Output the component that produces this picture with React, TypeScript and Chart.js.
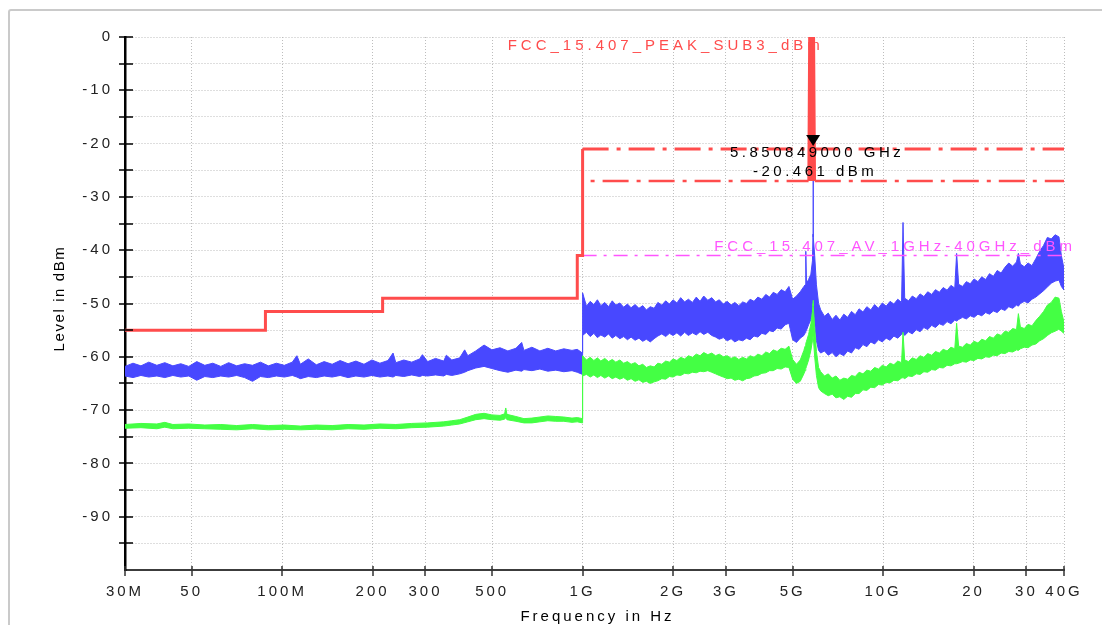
import React, { useEffect, useRef } from 'react';
import { Chart, registerables } from 'chart.js';

Chart.register(...registerables);

// ---------- axis ticks ----------
const X_TICKS_MHZ = [30, 50, 100, 200, 300, 500, 1000, 2000, 3000, 5000, 10000, 20000, 30000, 40000];
const X_TICK_LABELS = ['30M', '50', '100M', '200', '300', '500', '1G', '2G', '3G', '5G', '10G', '20', '30', '40G'];
const X_TITLE = 'Frequency in Hz';
const Y_TITLE = 'Level in dBm';

// ---------- limit lines ----------
const STEP_LIMIT_FREQ = [30, 88, 88, 216, 216, 960, 960, 1000, 1000, 40000];
const STEP_LIMIT_DBM = [-55, -55, -51.5, -51.5, -49, -49, -41, -41, -21, -21];

const SUB3_FREQ = [1000, 5650, 5700, 5720, 5725, 5850, 5855, 5875, 5925, 40000];
const SUB3_DBM = [-27, -27, 10, 15.6, 27, 27, 15.6, 10, -27, -27];

const AV_FREQ = [1000, 40000];
const AV_DBM = [-41, -41];

// ---------- frequencies above 1 GHz (MHz), shared by both traces ----------
const FREQ_HIGH = [
  1000, 1030, 1060, 1090, 1120, 1150, 1185, 1220, 1255, 1290,
  1330, 1370, 1410, 1450, 1495, 1540, 1585, 1630, 1680, 1730,
  1780, 1835, 1890, 1945, 2000, 2060, 2120, 2185, 2250, 2320,
  2390, 2460, 2530, 2610, 2690, 2770, 2850, 2940, 3030, 3120,
  3210, 3310, 3410, 3510, 3610, 3720, 3830, 3950, 4070, 4190,
  4310, 4440, 4580, 4720, 4860, 5000, 5150, 5300, 5450, 5500,
  5530, 5560, 5650, 5750, 5820, 5845, 5850.849, 5860, 5920, 6000,
  6100, 6200, 6380, 6570, 6770, 6970, 7180, 7400, 7620, 7850,
  8080, 8320, 8570, 8830, 9100, 9370, 9650, 9940, 10240, 10550,
  10860, 11190, 11520, 11650, 11800, 12150, 12510, 12890, 13280, 13670,
  14080, 14510, 14940, 15390, 15850, 16330, 16820, 17320, 17570, 17840,
  18380, 18930, 19500, 20080, 20680, 21300, 21940, 22600, 23280, 23980,
  24700, 25440, 26200, 26990, 27800, 28200, 28640, 29500, 30380, 31290,
  32230, 33200, 34200, 35220, 36280, 37370, 38490, 39200, 40000,
];

// ---------- peak trace (blue) ----------
const PEAK_FREQ_LOW = [
  30, 31.9, 33.9, 36, 38.3, 40.7, 43.3, 46, 48.9, 52,
  55.3, 58.8, 62.5, 66.4, 70.6, 75, 79.7, 84.7, 90, 95.7,
  101.7, 108.1, 112, 115, 122.2, 130, 138, 146.7, 156, 165.8,
  176, 187.3, 199, 211.6, 225, 234, 239, 254, 270, 287,
  293, 305, 324, 345, 352, 367, 390, 405, 415, 441,
  470, 499, 531, 564, 600, 627, 638, 678, 721, 766,
  814, 866, 922, 960, 999,
];
const PEAK_HI_LOW = [
  -61.8, -61.2, -61.7, -61.0, -61.6, -61.1, -61.7, -61.3, -61.8, -60.9,
  -61.6, -61.2, -61.8, -61.1, -61.7, -61.3, -61.6, -61.0, -61.7, -61.2,
  -61.6, -61.0, -59.8, -61.4, -60.4, -61.5, -60.9, -61.4, -60.7, -61.3,
  -60.8, -61.4, -60.6, -61.2, -60.7, -59.3, -61.1, -60.6, -61.0, -60.4,
  -59.6, -60.9, -60.3, -60.8, -59.7, -60.6, -60.2, -58.7, -59.8, -58.9,
  -57.8, -58.7, -58.3, -58.9, -58.4, -57.3, -58.8, -58.2, -58.9, -58.4,
  -58.9, -58.5, -58.8, -58.6, -59.3,
];
const PEAK_LO_LOW = [
  -63.6, -63.9, -63.5, -63.8, -63.6, -63.9, -63.5, -63.8, -63.6, -64.4,
  -63.7, -63.9, -63.6, -63.8, -63.5, -63.9, -64.6, -63.7, -63.9, -63.6,
  -63.8, -63.5, -63.8, -64.1, -63.7, -63.9, -63.6, -63.8, -63.5, -63.9,
  -63.6, -63.8, -63.5, -63.8, -63.6, -63.8, -63.5, -63.7, -63.4, -63.7,
  -63.5, -63.6, -63.4, -63.6, -63.3, -63.5, -63.2, -62.9, -62.6, -62.1,
  -61.8, -62.2, -62.6, -62.9, -62.5, -62.7, -62.4, -62.6, -62.3, -62.7,
  -62.5, -62.8, -62.6, -62.9, -63.3,
];
const PEAK_HI_HIGH = [
  -48.0, -50.5, -49.6, -50.2, -49.3, -50.4, -49.8, -50.6, -49.5, -50.3,
  -49.9, -50.7, -50.1, -50.8, -50.2, -50.9, -50.4, -51.2, -50.6, -50.9,
  -49.8, -50.3, -49.5, -50.1, -49.3, -49.9, -48.9, -49.7, -49.2, -49.8,
  -48.8, -49.6, -48.6, -49.4, -48.9, -49.7, -49.3, -50.1, -49.6, -50.3,
  -49.8, -50.4, -49.7, -50.0, -49.2, -49.6, -48.8, -49.2, -48.3, -48.8,
  -47.9, -48.3, -47.4, -47.8, -46.8, -49.2, -48.6, -47.8, -46.8, -46.5,
  -40.2, -46.2, -45.5, -44.5, -42.0, -37.0, -20.461, -37.5, -41.0, -46.5,
  -50.0, -51.2, -52.4, -51.8, -53.0, -52.2, -53.1, -52.0, -52.6, -51.5,
  -52.1, -51.0, -51.6, -50.6, -51.2, -50.2, -50.9, -49.9, -50.5, -49.6,
  -50.1, -49.2, -49.8, -34.8, -49.0, -49.5, -48.6, -49.1, -48.2, -48.7,
  -47.8, -48.3, -47.4, -47.9, -47.0, -47.5, -46.6, -47.1, -40.6, -46.4,
  -46.8, -45.9, -46.3, -45.4, -45.9, -45.0, -45.5, -44.4, -44.9, -43.8,
  -44.3, -43.2, -42.4, -43.0, -42.2, -40.6, -42.6, -43.1, -42.4, -42.9,
  -41.6, -40.2, -39.1, -37.6, -37.9, -37.1, -37.5, -41.0, -43.5,
];
const PEAK_LO_HIGH = [
  -56.0, -55.4, -56.2, -55.6, -56.4, -55.9, -56.3, -55.7, -56.5, -56.0,
  -56.6, -56.2, -56.8, -56.3, -56.9, -56.5, -57.1, -56.7, -57.2, -56.6,
  -56.1, -55.7, -56.2, -55.6, -56.0, -55.5, -56.1, -55.4, -56.0, -55.5,
  -55.9, -55.3, -55.8, -55.4, -56.0, -56.3, -56.7, -56.4, -57.0, -56.6,
  -57.2, -56.8, -57.0, -56.5, -56.8, -56.1, -56.3, -55.6, -55.8, -55.1,
  -55.3, -54.6, -54.8, -54.0, -53.7, -56.8, -57.3, -56.5, -56.0, -55.5,
  -55.3, -55.0, -54.0, -53.0, -51.5, -50.5, -50.0, -51.5, -53.5, -57.0,
  -58.8, -59.3, -58.9, -59.7, -59.2, -60.0, -59.4, -59.8, -58.9, -59.3,
  -58.3, -58.6, -57.7, -58.1, -57.2, -57.6, -56.8, -57.2, -56.5, -56.9,
  -56.1, -56.5, -55.8, -55.6, -56.0, -55.3, -55.7, -54.9, -55.3, -54.5,
  -54.9, -54.1, -54.5, -53.8, -54.1, -53.4, -53.8, -53.1, -53.3, -53.0,
  -52.6, -52.9, -52.3, -52.6, -52.0, -52.3, -51.7, -52.0, -51.4, -51.7,
  -51.0, -51.3, -50.6, -50.9, -50.3, -50.5, -50.0, -49.6, -49.9, -49.2,
  -48.8, -48.2, -47.6, -46.9, -46.2, -45.8, -45.6, -46.8, -47.5,
];

// ---------- average trace (green) ----------
const AVG_FREQ_LOW = [
  30, 33.9, 38.3, 40.7, 43.3, 48.9, 55.3, 62.5, 70.6, 79.7,
  90, 101.7, 115, 130, 146.7, 165.8, 187.3, 211.6, 239, 270,
  305, 345, 367, 390, 415, 441, 470, 499, 531, 550,
  555, 560, 600, 638, 678, 721, 766, 814, 866, 922,
  960, 999,
];
const AVG_HI_LOW = [
  -72.7, -72.5, -72.6, -72.3, -72.7, -72.6, -72.8, -72.7, -72.9, -72.7,
  -72.9, -72.8, -73.0, -72.8, -72.9, -72.7, -72.8, -72.6, -72.7, -72.5,
  -72.4, -72.2, -72.0, -71.8, -71.3, -70.8, -70.6, -70.9, -71.0, -70.7,
  -69.6, -70.8, -71.2, -71.6, -71.5, -71.3, -71.1, -71.2, -71.3, -71.5,
  -71.4, -71.6,
];
const AVG_LO_LOW = [
  -73.4, -73.3, -73.5, -73.2, -73.5, -73.4, -73.5, -73.6, -73.7, -73.5,
  -73.7, -73.6, -73.7, -73.6, -73.7, -73.5, -73.6, -73.4, -73.5, -73.3,
  -73.2, -73.0, -72.8, -72.6, -72.2, -71.8, -71.6, -71.8, -71.9, -71.7,
  -71.4, -71.8, -72.1, -72.4, -72.4, -72.2, -72.0, -72.1, -72.1, -72.3,
  -72.2, -72.4,
];
const AVG_HI_HIGH = [
  -59.8, -60.6, -60.1, -60.7, -60.2, -60.8, -60.3, -60.9, -60.5, -61.0,
  -60.6, -61.2, -60.9, -61.4, -61.1, -61.7, -61.4, -62.0, -61.7, -61.9,
  -61.2, -61.4, -60.8, -61.0, -60.4, -60.7, -60.1, -60.4, -59.8, -60.1,
  -59.5, -59.8, -59.2, -59.6, -59.3, -59.8, -59.5, -60.0, -59.8, -60.3,
  -60.0, -60.5, -60.1, -60.4, -59.8, -60.1, -59.5, -59.8, -59.1, -59.4,
  -58.7, -59.0, -58.4, -58.6, -58.0, -60.5, -61.4, -60.6, -58.8, -58.0,
  -57.5, -57.1, -55.8, -53.8, -51.5, -50.0, -49.4, -50.5, -54.5, -59.0,
  -62.0, -62.8, -63.6, -63.2, -64.0, -63.6, -64.4, -64.0, -64.2, -63.5,
  -63.7, -62.9, -63.2, -62.5, -62.7, -62.0, -62.3, -61.6, -61.9, -61.2,
  -61.5, -60.8, -61.1, -55.4, -60.6, -60.9, -60.2, -60.5, -59.8, -60.1,
  -59.4, -59.7, -59.0, -59.3, -58.6, -58.9, -58.2, -58.5, -53.7, -58.0,
  -58.2, -57.5, -57.8, -57.1, -57.4, -56.7, -57.0, -56.2, -56.5, -55.7,
  -56.0, -55.2, -55.4, -54.7, -54.9, -51.9, -54.4, -54.7, -53.9, -54.2,
  -53.2, -52.4, -51.5, -50.3, -49.8, -48.8, -49.0, -51.5, -53.5,
];
const AVG_LO_HIGH = [
  -63.6, -63.3, -63.8, -63.4, -63.9, -63.5, -64.0, -63.6, -64.1, -63.8,
  -64.2, -63.9, -64.4, -64.1, -64.6, -64.3, -64.8, -64.6, -65.0, -64.7,
  -64.5, -64.1, -64.2, -63.7, -63.8, -63.4, -63.5, -63.1, -63.2, -62.9,
  -63.0, -62.7, -62.8, -62.6, -62.9, -63.2, -63.5, -63.8, -64.1, -64.0,
  -64.4, -64.2, -64.5, -64.1, -64.0, -63.6, -63.5, -63.1, -63.0, -62.6,
  -62.6, -62.2, -62.3, -61.9, -62.0, -64.2, -65.0, -64.6, -63.2, -62.6,
  -62.2, -61.8, -60.6, -58.8, -57.0, -55.8, -55.3, -56.2, -60.0, -63.5,
  -65.8, -66.4, -66.9, -67.3, -67.0, -67.7, -67.5, -68.0, -67.4, -67.6,
  -66.9, -66.9, -66.2, -66.3, -65.7, -65.8, -65.2, -65.3, -64.8, -64.9,
  -64.4, -64.5, -64.0, -63.9, -64.1, -63.6, -63.7, -63.2, -63.3, -62.8,
  -62.9, -62.4, -62.5, -62.0, -62.1, -61.6, -61.7, -61.3, -61.3, -61.2,
  -60.9, -61.0, -60.6, -60.7, -60.3, -60.4, -60.0, -60.1, -59.7, -59.8,
  -59.3, -59.4, -59.0, -59.1, -58.7, -58.8, -58.5, -58.2, -58.3, -57.8,
  -57.6, -57.0, -56.6, -56.0, -55.5, -55.2, -54.8, -55.2, -55.6,
];

// ---------- marker ----------
const MARKER_FREQ = 5850.849;
const MARKER_DBM = -20.461;

// ---------- limit names ----------
const PEAK_LIMIT_NAME = 'FCC_15.407_PEAK_SUB3_dBm';
const AV_LIMIT_NAME = 'FCC_15.407_AV_1GHz-40GHz_dBm';

const BLUE = '#4848ff';
const GREEN = '#44ff44';
const RED = '#ff4c4c';
const MAGENTA = '#ff55ff';
const FONT = '"Liberation Sans", Arial, sans-serif';
const LIMIT_DASH = [26, 8, 4, 8];

function toPoints(fs: number[], vs: number[]) {
  return fs.map((f, i) => ({ x: f, y: vs[i] }));
}

const overlayPlugin = {
  id: 'overlay',
  beforeDraw(chart: any) {
    chart.ctx.letterSpacing = '3px';
  },
  afterDraw(chart: any) {
    const { ctx, chartArea: a, scales } = chart;
    const xs = scales.x;
    const ys = scales.y;
    ctx.save();
    // y tick marks
    ctx.strokeStyle = '#000';
    ctx.lineWidth = 1.5;
    ctx.beginPath();
    ys.ticks.forEach((t: any) => {
      if (t.value <= -100) return;
      const py = Math.round(ys.getPixelForValue(t.value));
      ctx.moveTo(a.left - 6, py);
      ctx.lineTo(a.left + 8, py);
    });
    ctx.stroke();
    // x tick marks
    ctx.strokeStyle = '#333';
    ctx.beginPath();
    xs.ticks.forEach((t: any) => {
      const px = Math.round(xs.getPixelForValue(t.value));
      ctx.moveTo(px, a.bottom - 4);
      ctx.lineTo(px, a.bottom + 6);
    });
    ctx.stroke();

    // axis titles
    ctx.font = `15px ${FONT}`;
    ctx.fillStyle = '#000';
    ctx.textAlign = 'center';
    ctx.textBaseline = 'middle';
    ctx.letterSpacing = '3px';
    ctx.fillText(X_TITLE, (a.left + a.right) / 2 + 3, 617);
    ctx.save();
    ctx.translate(60, (a.top + a.bottom) / 2 - 5);
    ctx.rotate(-Math.PI / 2);
    ctx.letterSpacing = '1.6px';
    ctx.fillText(Y_TITLE, 0, 0);
    ctx.restore();

    // limit names
    ctx.letterSpacing = '4px';
    ctx.textAlign = 'right';
    ctx.fillStyle = RED;
    ctx.fillText(PEAK_LIMIT_NAME, xs.getPixelForValue(5925) + 9, ys.getPixelForValue(-1.6));
    ctx.fillStyle = MAGENTA;
    ctx.fillText(AV_LIMIT_NAME, a.right + 12, ys.getPixelForValue(-39.3));

    // marker
    const mx = xs.getPixelForValue(MARKER_FREQ);
    const my = ys.getPixelForValue(MARKER_DBM);
    ctx.fillStyle = '#000';
    ctx.beginPath();
    ctx.moveTo(mx - 7, my - 11);
    ctx.lineTo(mx + 7, my - 11);
    ctx.lineTo(mx, my);
    ctx.closePath();
    ctx.fill();
    ctx.letterSpacing = '3.5px';
    ctx.textAlign = 'center';
    ctx.fillText(`${(MARKER_FREQ / 1000).toFixed(9)} GHz`, mx + 4, my + 7);
    ctx.fillText(`${MARKER_DBM.toFixed(3)} dBm`, mx + 2, my + 26);
    ctx.restore();
  },
};

export default function App() {
  const canvasRef = useRef<HTMLCanvasElement | null>(null);

  useEffect(() => {
    const canvas = canvasRef.current;
    if (!canvas) return;
    Chart.defaults.font.family = FONT;
    Chart.defaults.font.size = 15;
    Chart.defaults.color = '#222';

    const gridCommon = { color: '#bdbdbd', lineWidth: 1, drawTicks: false };
    const traceBase = { borderWidth: 1, pointRadius: 0 };

    const chart = new Chart(canvas, {
      type: 'line',
      data: {
        datasets: [
          {
            label: 'limit step',
            data: toPoints(STEP_LIMIT_FREQ, STEP_LIMIT_DBM),
            borderColor: RED,
            borderWidth: 3,
            pointRadius: 0,
            fill: false,
            segment: {
              borderDash: (c: any) =>
                c.p0.parsed.x >= 1000 && c.p0.parsed.y === c.p1.parsed.y ? LIMIT_DASH : undefined,
            },
          },
          {
            label: PEAK_LIMIT_NAME,
            data: toPoints(SUB3_FREQ, SUB3_DBM),
            borderColor: RED,
            backgroundColor: RED,
            borderWidth: 2.5,
            pointRadius: 0,
            fill: { target: { value: -27 } },
            segment: {
              borderDash: (c: any) => (c.p0.parsed.y === -27 && c.p1.parsed.y === -27 ? LIMIT_DASH : undefined),
              borderDashOffset: (c: any) => (c.p0.parsed.x === 1000 ? 26 : 0),
            },
          },
          {
            label: AV_LIMIT_NAME,
            data: toPoints(AV_FREQ, AV_DBM),
            borderColor: MAGENTA,
            borderWidth: 1.5,
            borderDash: [14, 7, 3, 7],
            pointRadius: 0,
            fill: false,
          },
          {
            ...traceBase,
            label: 'AV hi',
            data: toPoints([...AVG_FREQ_LOW, ...FREQ_HIGH], [...AVG_HI_LOW, ...AVG_HI_HIGH]),
            borderColor: GREEN,
            backgroundColor: GREEN,
            fill: '+1',
          },
          {
            ...traceBase,
            label: 'AV lo',
            data: toPoints([...AVG_FREQ_LOW, ...FREQ_HIGH], [...AVG_LO_LOW, ...AVG_LO_HIGH]),
            borderColor: GREEN,
            fill: false,
          },
          {
            ...traceBase,
            label: 'PK hi',
            data: toPoints([...PEAK_FREQ_LOW, ...FREQ_HIGH], [...PEAK_HI_LOW, ...PEAK_HI_HIGH]),
            borderColor: BLUE,
            backgroundColor: BLUE,
            fill: '+1',
          },
          {
            ...traceBase,
            label: 'PK lo',
            data: toPoints([...PEAK_FREQ_LOW, ...FREQ_HIGH], [...PEAK_LO_LOW, ...PEAK_LO_HIGH]),
            borderColor: BLUE,
            fill: false,
          },
        ],
      },
      options: {
        responsive: false,
        animation: false,
        devicePixelRatio: 1,
        layout: { padding: { left: 0, right: 38, top: 37, bottom: 0 } },
        elements: { line: { tension: 0 }, point: { radius: 0 } },
        plugins: { legend: { display: false }, tooltip: { enabled: false } },
        scales: {
          x: {
            type: 'logarithmic',
            min: 30,
            max: 40000,
            afterBuildTicks: (s: any) => {
              s.ticks = X_TICKS_MHZ.map((v) => ({ value: v }));
            },
            afterFit: (s: any) => {
              s.height = 55;
            },
            ticks: {
              autoSkip: false,
              maxRotation: 0,
              minRotation: 0,
              padding: 13,
              color: '#222',
              callback: (_v: any, i: number) => X_TICK_LABELS[i] ?? '',
            },
            grid: gridCommon,
            border: { color: '#3c3c3c', width: 2, dash: [1, 2] },
            title: { display: false },
          },
          y: {
            type: 'linear',
            min: -100,
            max: 0,
            afterFit: (s: any) => {
              s.width = 125;
            },
            ticks: {
              stepSize: 5,
              autoSkip: false,
              padding: 12,
              color: '#222',
              callback: (v: any) => (v % 10 === 0 && v > -100 ? String(v) : ''),
            },
            grid: gridCommon,
            border: { color: '#000', width: 2.5, dash: [1, 2] },
            title: { display: false },
          },
        },
      },
      plugins: [overlayPlugin],
    } as any);

    return () => chart.destroy();
  }, []);

  return (
    <div style={{ position: 'fixed', left: 0, top: 0, width: 1102, height: 625, overflow: 'hidden', background: '#fff' }}>
      <div
        style={{
          position: 'absolute',
          left: 8,
          top: 9,
          width: 1200,
          height: 700,
          border: '2px solid #cacaca',
          borderRadius: 3,
          boxSizing: 'border-box',
        }}
      />
      <canvas ref={canvasRef} width={1102} height={625} style={{ position: 'absolute', left: 0, top: 0 }} />
    </div>
  );
}
